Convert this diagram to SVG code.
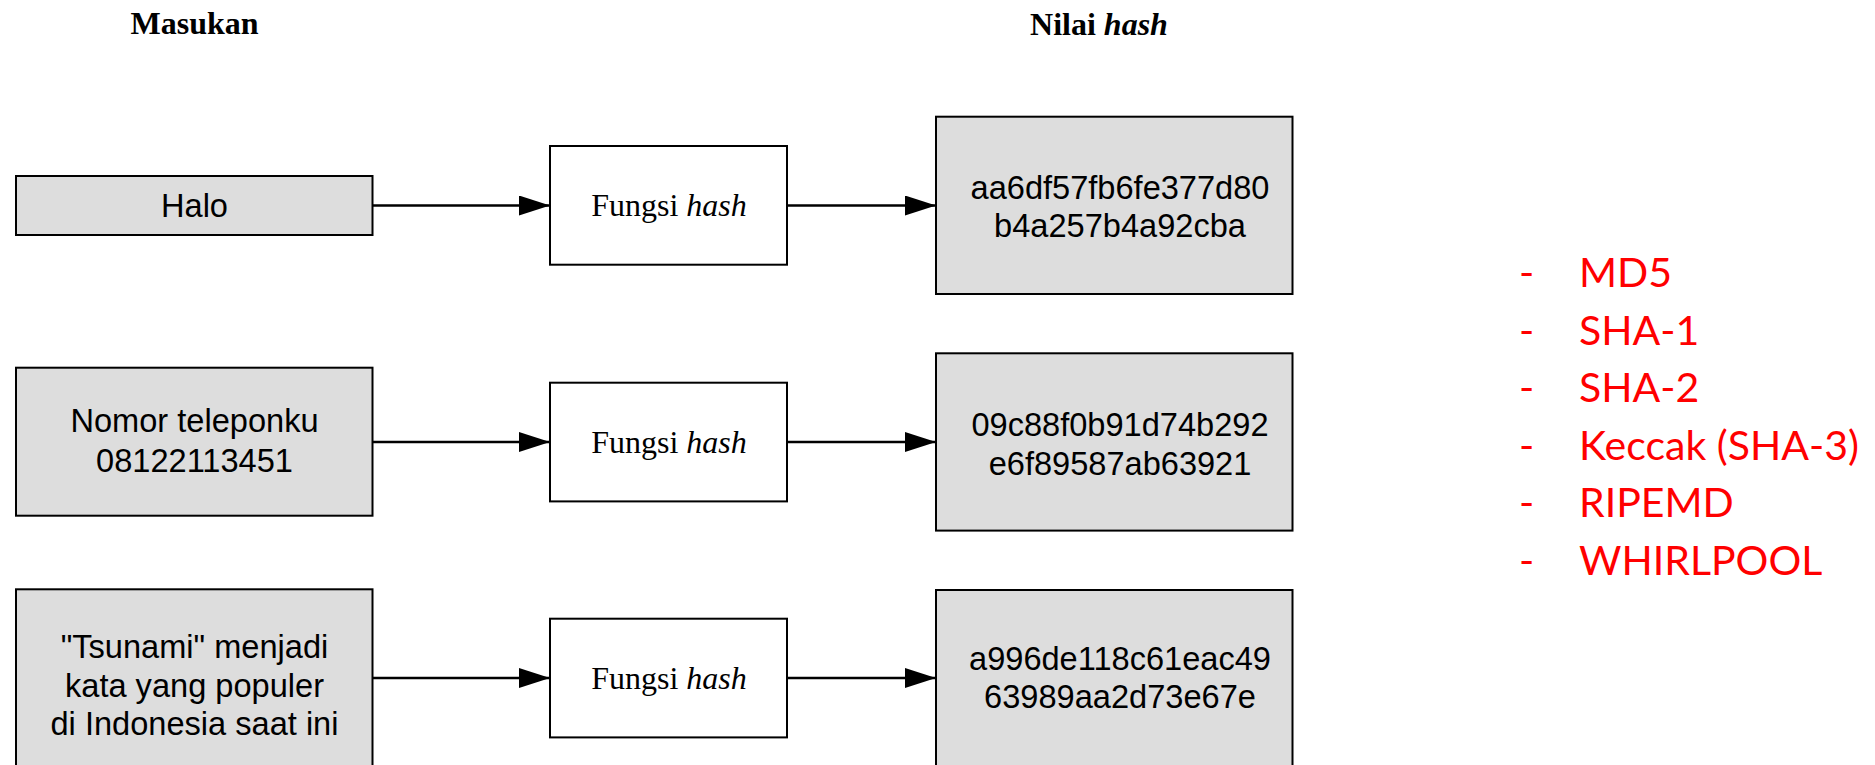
<svg xmlns="http://www.w3.org/2000/svg" width="1875" height="765" viewBox="0 0 1875 765">
<style>
.box{fill:#dddddd;stroke:#000;stroke-width:2}
.fn{fill:#ffffff;stroke:#000;stroke-width:2}
.sans{font-family:"Liberation Sans",Arial,sans-serif;font-size:32.6px;fill:#000;text-anchor:middle}
.serif{font-family:"Liberation Serif","Times New Roman",serif;font-size:32px;fill:#000;text-anchor:middle}
.title{font-family:"Liberation Serif","Times New Roman",serif;font-size:32px;font-weight:bold;fill:#000;text-anchor:middle}
.conn{stroke:#000;stroke-width:2.5;fill:none;marker-end:url(#arrow)}
.red{font-family:Lato,"Open Sans",sans-serif;font-size:41px;fill:#ff0000}
</style>
<defs>
<marker id="arrow" markerUnits="userSpaceOnUse" markerWidth="32" markerHeight="22" refX="31" refY="10" orient="auto">
<path d="M0,0 L31,10 L0,20 Z" fill="#000"/>
</marker>
</defs>
<rect width="1875" height="765" fill="#fff"/>
<g id="titles">
<text class="title" x="194.5" y="34">Masukan</text>
<text class="title" x="1099" y="35">Nilai <tspan font-style="italic">hash</tspan></text>
</g>
<g id="connectors">
<line class="conn" x1="373" y1="205.5" x2="550" y2="205.5"/>
<line class="conn" x1="787" y1="205.5" x2="936" y2="205.5"/>
<line class="conn" x1="373" y1="442" x2="550" y2="442"/>
<line class="conn" x1="787" y1="442" x2="936" y2="442"/>
<line class="conn" x1="373" y1="678" x2="550" y2="678"/>
<line class="conn" x1="787" y1="678" x2="936" y2="678"/>
</g>
<g id="input1">
<rect class="box" x="16" y="176" width="356.5" height="59"/>
<text class="sans" x="194.5" y="216.5">Halo</text>
</g>
<g id="input2">
<rect class="box" x="16" y="367.7" width="356.5" height="148"/>
<text class="sans" x="194.5" y="432">Nomor teleponku</text>
<text class="sans" x="194.5" y="471.5">08122113451</text>
</g>
<g id="input3">
<rect class="box" x="16" y="589.3" width="356.5" height="195"/>
<text class="sans" x="194.5" y="658">"Tsunami" menjadi</text>
<text class="sans" x="194.5" y="696.5">kata yang populer</text>
<text class="sans" x="194.5" y="735">di Indonesia saat ini</text>
</g>
<g id="hashfn1">
<rect class="fn" x="550" y="146" width="237" height="118.7"/>
<text class="serif" x="669" y="216">Fungsi <tspan font-style="italic">hash</tspan></text>
</g>
<g id="hashfn2">
<rect class="fn" x="550" y="382.7" width="237" height="118.7"/>
<text class="serif" x="669" y="452.5">Fungsi <tspan font-style="italic">hash</tspan></text>
</g>
<g id="hashfn3">
<rect class="fn" x="550" y="618.7" width="237" height="118.7"/>
<text class="serif" x="669" y="688.5">Fungsi <tspan font-style="italic">hash</tspan></text>
</g>
<g id="hash1">
<rect class="box" x="936" y="116.7" width="356.5" height="177.3"/>
<text class="sans" x="1120" y="199">aa6df57fb6fe377d80</text>
<text class="sans" x="1120" y="237">b4a257b4a92cba</text>
</g>
<g id="hash2">
<rect class="box" x="936" y="353.3" width="356.5" height="177.3"/>
<text class="sans" x="1120" y="435.5">09c88f0b91d74b292</text>
<text class="sans" x="1120" y="475">e6f89587ab63921</text>
</g>
<g id="hash3">
<rect class="box" x="936" y="590" width="356.5" height="177.3"/>
<text class="sans" x="1120" y="670">a996de118c61eac49</text>
<text class="sans" x="1120" y="708">63989aa2d73e67e</text>
</g>
<g id="algorithms">
<text class="red" x="1519" y="287">-</text><text class="red" x="1579" y="287">MD5</text>
<text class="red" x="1519" y="344.5">-</text><text class="red" x="1579" y="344.5">SHA-1</text>
<text class="red" x="1519" y="402">-</text><text class="red" x="1579" y="402">SHA-2</text>
<text class="red" x="1519" y="459.5">-</text><text class="red" x="1579" y="459.5">Keccak (SHA-3)</text>
<text class="red" x="1519" y="517">-</text><text class="red" x="1579" y="517">RIPEMD</text>
<text class="red" x="1519" y="574.5">-</text><text class="red" x="1579" y="574.5">WHIRLPOOL</text>
</g>
</svg>
